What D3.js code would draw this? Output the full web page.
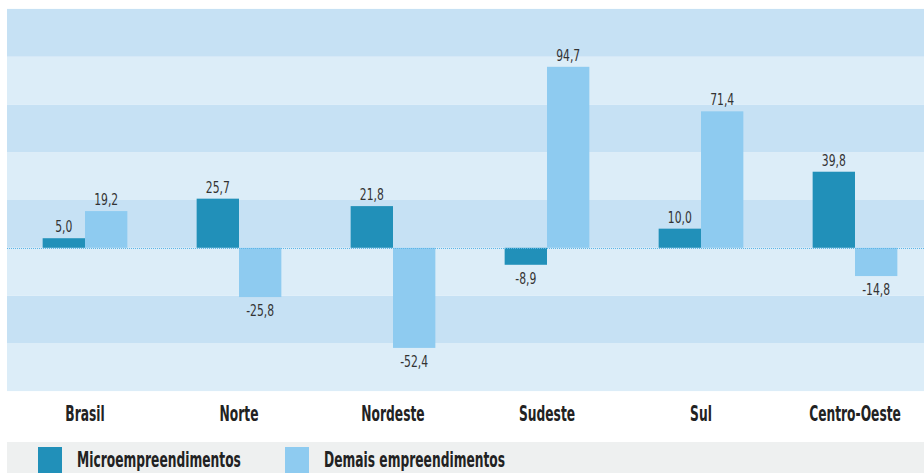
<!DOCTYPE html>
<html>
<head>
<meta charset="utf-8">
<script src="https://cdnjs.cloudflare.com/ajax/libs/d3/7.8.5/d3.min.js"></script>
<style>
    body { margin: 0; background: #fff; }
    svg { display: block; }
    .cat, .legend-text { font-family: "DejaVu Sans Condensed", "DejaVu Sans", sans-serif; font-weight: bold; fill: #222; }
    .val { font-family: "DejaVu Sans Condensed", "DejaVu Sans", sans-serif; fill: #333; }
</style>
</head>
<body>
<svg id="chart"></svg>
<script>
var regions = ["Brasil", "Norte", "Nordeste", "Sudeste", "Sul", "Centro-Oeste"];
var micro = [5.0, 25.7, 21.8, -8.9, 10.0, 39.8];
var demais = [19.2, -25.8, -52.4, 94.7, 71.4, -14.8];
var seriesNames = ["Microempreendimentos", "Demais empreendimentos"];
var bandStops = [-75, -50, -25, 0, 25, 50, 75, 100, 125];

var width = 924;
var height = 473;
var colors = ["#2190b9", "#8ecbf0"];

var svg = d3.select("#chart")
    .attr("width", width)
    .attr("height", height);

var x = d3.scaleBand()
    .domain(regions)
    .range([8, 932])
    .paddingInner(0.45)
    .paddingOuter(0.225);

var xs = d3.scaleBand()
    .domain(seriesNames)
    .range([0, x.bandwidth()]);

var y = d3.scaleLinear()
    .domain([-76, 126])
    .range([393, 7]);

// alternating background bands
var bands = d3.pairs(bandStops);
svg.selectAll(".band")
    .data(bands)
    .enter()
    .append("rect")
    .classed("band", true)
    .attr("x", 7)
    .attr("width", width - 7)
    .attr("y", d => Math.max(7, y(d[1])))
    .attr("height", d => Math.min(393, y(d[0])) - Math.max(7, y(d[1])))
    .attr("fill", (d, i) => i % 2 === 0 ? "#dcedf8" : "#c6e1f4");

var rows = regions.map((r, i) => ({ region: r, values: [micro[i], demais[i]] }));

var groups = svg.selectAll(".group")
    .data(rows)
    .enter()
    .append("g")
    .classed("group", true)
    .attr("transform", d => "translate(" + x(d.region) + ",0)");

groups.selectAll(".bar")
    .data(d => d.values.map((v, j) => ({ v: v, s: seriesNames[j], j: j })))
    .enter()
    .append("rect")
    .classed("bar", true)
    .attr("x", d => xs(d.s))
    .attr("width", xs.bandwidth())
    .attr("y", d => Math.min(y(d.v), y(0)))
    .attr("height", d => Math.abs(y(d.v) - y(0)))
    .attr("fill", d => colors[d.j]);

// dotted zero line
svg.append("line")
    .attr("x1", 7)
    .attr("x2", width)
    .attr("y1", Math.round(y(0)) + 0.5)
    .attr("y2", Math.round(y(0)) + 0.5)
    .attr("stroke", "#5db6e8")
    .attr("stroke-width", 1)
    .attr("stroke-dasharray", "1,1");

var fmt = v => d3.format(".1f")(v).replace(".", ",").replace("−", "-");

groups.selectAll(".val")
    .data(d => d.values.map((v, j) => ({ v: v, s: seriesNames[j] })))
    .enter()
    .append("text")
    .classed("val", true)
    .attr("transform", d => "translate(" + (xs(d.s) + xs.bandwidth() / 2) + "," +
        (d.v >= 0 ? y(d.v) - 6 : y(d.v) + 19) + ") scale(0.8,1)")
    .attr("text-anchor", "middle")
    .attr("font-size", 15)
    .text(d => fmt(d.v));

// category labels (condensed)
svg.selectAll(".cat")
    .data(regions)
    .enter()
    .append("text")
    .classed("cat", true)
    .attr("transform", d => "translate(" + (x(d) + x.bandwidth() / 2) + ",420.5) scale(0.62,1)")
    .attr("text-anchor", "middle")
    .attr("font-size", 22)
    .text(d => d);

// legend
svg.append("rect")
    .attr("x", 7)
    .attr("y", 442)
    .attr("width", width - 7)
    .attr("height", height - 442)
    .attr("fill", "#eef0f0");

var legendX = [38, 285];
var legend = svg.selectAll(".legend")
    .data(seriesNames)
    .enter()
    .append("g")
    .classed("legend", true)
    .attr("transform", (d, i) => "translate(" + legendX[i] + ",0)");

legend.append("rect")
    .attr("x", 0)
    .attr("y", 447)
    .attr("width", 24)
    .attr("height", 26)
    .attr("fill", (d, i) => colors[i]);

legend.append("text")
    .classed("legend-text", true)
    .attr("transform", "translate(39,467) scale(0.62,1)")
    .attr("font-size", 22)
    .text(d => d);
</script>
</body>
</html>
